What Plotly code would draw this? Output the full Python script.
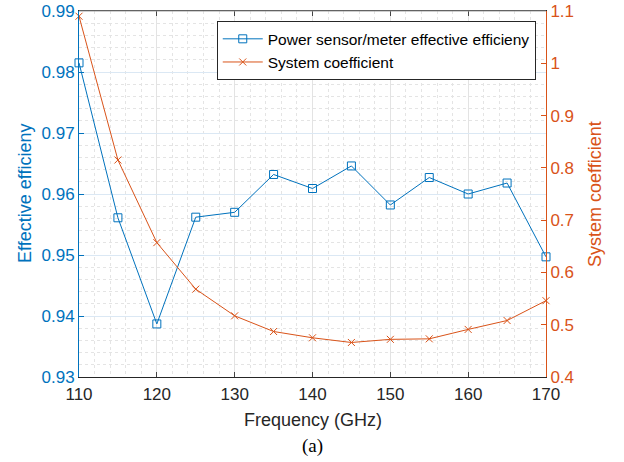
import plotly.graph_objects as go

freq = [110, 115, 120, 125, 130, 135, 140, 145, 150, 155, 160, 165, 170]
eff = [0.9815, 0.9561, 0.9387, 0.9562, 0.9570, 0.9632, 0.9609, 0.9646, 0.9582, 0.9627, 0.9600, 0.9618, 0.9497]
coef = [1.090, 0.815, 0.657, 0.568, 0.517, 0.487, 0.475, 0.466, 0.472, 0.473, 0.491, 0.508, 0.546]

blue = "#0072BD"
orange = "#D95319"
font = "Liberation Sans, Arial, sans-serif"

fig = go.Figure()
fig.add_trace(go.Scatter(
    x=freq, y=eff, name="Power sensor/meter effective efficieny",
    mode="lines+markers", line=dict(color=blue, width=1),
    marker=dict(symbol="square-open", size=8, color=blue, line=dict(width=1)),
    yaxis="y", cliponaxis=False))
fig.add_trace(go.Scatter(
    x=freq, y=coef, name="System coefficient",
    mode="lines+markers", line=dict(color=orange, width=1),
    marker=dict(symbol="x-thin-open", size=7, color=orange, line=dict(width=1, color=orange)),
    yaxis="y2", cliponaxis=False))

fig.update_layout(
    width=624, height=462,
    margin=dict(l=79, r=78, t=11, b=85, autoexpand=False),
    paper_bgcolor="white", plot_bgcolor="white",
    font=dict(family=font, size=17, color="#262626"),
    showlegend=True,
    legend=dict(x=0.295, y=0.972, xanchor="left", yanchor="top",
                bgcolor="white", bordercolor="#262626", borderwidth=1,
                font=dict(size=15.5, color="#000000"), tracegroupgap=0,
                itemwidth=40),
    xaxis=dict(range=[110, 170], dtick=10, tick0=110, ticks="inside", ticklen=5,
               showline=True, linecolor="#262626", linewidth=1, mirror="ticks",
               showgrid=True, gridcolor="#e3e3e3", gridwidth=1, zeroline=False,
               automargin=False, ticklabelstandoff=2,
               tickfont=dict(size=17, color="#262626"),
               minor=dict(dtick=2, showgrid=True, gridcolor="#e4e4e4", griddash="dot", gridwidth=1)),
    yaxis=dict(range=[0.93, 0.99], dtick=0.01, tick0=0.93, ticks="inside", ticklen=5,
               showline=True, linecolor=blue, linewidth=1, tickcolor=blue,
               showgrid=True, gridcolor="#dbe8f4", gridwidth=1, zeroline=False,
               automargin=False,
               tickformat=".2f", tickfont=dict(size=17, color=blue),
               minor=dict(dtick=0.002, showgrid=True, gridcolor="#e4e4e4", griddash="dot", gridwidth=1)),
    yaxis2=dict(range=[0.4, 1.1], dtick=0.1, tick0=0.4, overlaying="y", side="right",
                ticks="inside", ticklen=5, showline=True, linecolor=orange, linewidth=1,
                tickcolor=orange, showgrid=False, zeroline=False, automargin=False,
                tickfont=dict(size=17, color=orange)),
    annotations=[
        dict(text="Effective efficieny", xref="paper", yref="paper", x=-0.1156, y=0.5,
             xanchor="center", yanchor="middle", textangle=-90, showarrow=False,
             font=dict(size=18, color=blue, family=font)),
        dict(text="System coefficient", xref="paper", yref="paper", x=1.105, y=0.5,
             xanchor="center", yanchor="middle", textangle=-90, showarrow=False,
             font=dict(size=18, color=orange, family=font)),
        dict(text="Frequency (GHz)", xref="paper", yref="paper", x=0.5, y=-0.1175,
             xanchor="center", yanchor="middle", showarrow=False,
             font=dict(size=18, color="#262626", family=font)),
        dict(text="(a)", xref="paper", yref="paper", x=0.5, y=-0.1885,
             xanchor="center", yanchor="middle", showarrow=False,
             font=dict(size=19, color="#000000", family="Liberation Serif, Times New Roman, serif")),
    ],
    shapes=[dict(type="line", xref="paper", yref="paper", x0=0, x1=1, y0=1, y1=1,
                 line=dict(color="#a0a0a0", width=1), layer="above")],
)

fig.write_html("out.html")
